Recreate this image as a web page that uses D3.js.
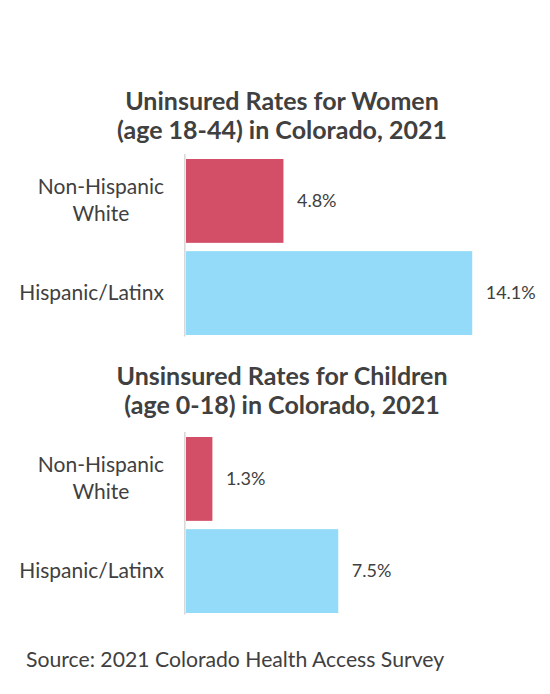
<!DOCTYPE html>
<html>
<head>
<meta charset="utf-8">
<script src="https://cdn.jsdelivr.net/npm/d3@7"></script>
<style>
  body { margin: 0; background: #fff; }
  svg { display: block; font-family: Lato, "Open Sans", sans-serif; }
</style>
</head>
<body>
<svg></svg>
<script>
let width = 550
let height = 694

// data
let categories = ['Non-Hispanic White', 'Hispanic/Latinx']
let womenRates = [4.8, 14.1]
let childRates = [1.3, 7.5]
let womenTitle = ['Uninsured Rates for Women', '(age 18-44) in Colorado, 2021']
let childTitle = ['Unsinsured Rates for Children', '(age 0-18) in Colorado, 2021']
let source = 'Source: 2021 Colorado Health Access Survey'

let barColors = ['#d24f67', '#93dbf8']
let textColor = '#404040'

let svg = d3.select('svg')
    .attr('width', width)
    .attr('height', height)

// both charts share the same value scale
let xScale = d3.scaleLinear()
    .domain([0, 15])
    .range([186, 186 + 15 * 20.3])

let drawChart = (values, title, titleY, bandTop, bandBottom) => {
    let data = categories.map((c, i) => ({ cat: c, value: values[i] }))

    let yScale = d3.scaleBand()
        .domain(categories)
        .range([bandTop, bandBottom])
        .paddingInner(0.09)
        .paddingOuter(0)

    let g = svg.append('g')

    // title
    g.append('text')
        .attr('x', 282)
        .attr('y', titleY)
        .attr('text-anchor', 'middle')
        .attr('fill', textColor)
        .style('font-size', '25px')
        .style('font-weight', 'bold')
        .selectAll('tspan')
        .data(title)
        .enter()
        .append('tspan')
        .attr('x', 282)
        .attr('dy', (d, i) => i == 0 ? 0 : 29)
        .text(d => d)

    // bars
    g.selectAll('rect')
        .data(data)
        .enter()
        .append('rect')
        .attr('x', xScale(0))
        .attr('y', d => yScale(d.cat))
        .attr('width', d => xScale(d.value) - xScale(0))
        .attr('height', yScale.bandwidth())
        .attr('fill', (d, i) => barColors[i])

    // vertical axis line
    g.append('line')
        .attr('x1', xScale(0) - 1.2)
        .attr('x2', xScale(0) - 1.2)
        .attr('y1', bandTop - 5)
        .attr('y2', bandBottom + 1.5)
        .attr('stroke', '#d9d9d9')
        .attr('stroke-width', 1.6)

    // value labels
    g.selectAll('.value')
        .data(data)
        .enter()
        .append('text')
        .attr('class', 'value')
        .attr('x', d => xScale(d.value) + 13.5)
        .attr('y', d => yScale(d.cat) + yScale.bandwidth() / 2)
        .attr('dy', '0.35em')
        .attr('fill', textColor)
        .style('font-size', '18px')
        .text(d => d.value.toFixed(1) + '%')

    // category labels, long ones wrapped and centred like Excel does
    data.forEach(d => {
        let lines = d.cat.indexOf(' ') > 0 && d.cat.length > 16 ? d.cat.split(' ') : [d.cat]
        let cy = yScale(d.cat) + yScale.bandwidth() / 2
        let label = g.append('text')
            .attr('fill', textColor)
            .style('font-size', '21px')
            .attr('text-anchor', 'middle')
        let tspans = label.selectAll('tspan')
            .data(lines)
            .enter()
            .append('tspan')
            .attr('y', (l, i) => cy + (i - (lines.length - 1) / 2) * 27)
            .attr('dy', '0.32em')
            .text(l => l)
        let widest = d3.max(tspans.nodes(), n => n.getComputedTextLength())
        tspans.attr('x', 164 - widest / 2)
    })
}

drawChart(womenRates, womenTitle, 110, 159, 335)
drawChart(childRates, childTitle, 385, 437, 613)

svg.append('text')
    .attr('x', 26)
    .attr('y', 667)
    .attr('fill', textColor)
    .style('font-size', '21.2px')
    .text(source)
</script>
</body>
</html>
